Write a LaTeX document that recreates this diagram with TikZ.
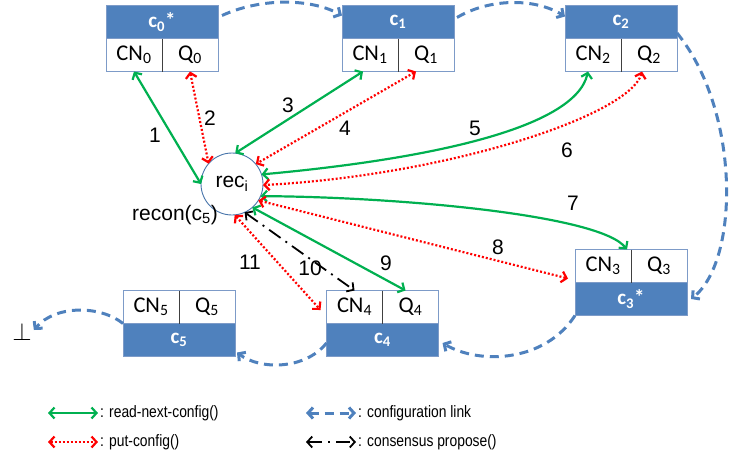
\documentclass[tikz,border=0pt]{standalone}
\usepackage{fontspec}
\setmainfont{Liberation Sans}
\newfontfamily\cellfont{Carlito}
\newfontfamily\legendfont[FakeStretch=0.84]{Liberation Sans}
\usetikzlibrary{positioning, arrows.meta}

\definecolor{hdrblue}{RGB}{79,129,189}
\definecolor{boxline}{RGB}{125,155,200}
\definecolor{rdgreen}{RGB}{0,176,80}
\definecolor{putred}{RGB}{255,0,0}
\definecolor{lnkblue}{RGB}{79,129,189}

\begin{document}
\begin{tikzpicture}[
        x=1pt, y=-1pt,
        >={Straight Barb[length=5pt,width=11pt]},
        hdr/.style={
            fill=hdrblue, draw=boxline, line width=0.8pt,
            minimum width=112pt, minimum height=33pt,
            inner sep=0pt, outer sep=0pt, text=white,
            font=\cellfont\bfseries\fontsize{21}{23}\selectfont
        },
        cell/.style={
            fill=white, draw=boxline, line width=0.8pt,
            minimum width=56pt, minimum height=33pt,
            inner sep=0pt, outer sep=0pt,
            font=\cellfont\fontsize{22.5}{24}\selectfont
        },
        divider/.style={draw=black!75, line width=0.9pt},
        recnode/.style={circle, draw=hdrblue!90!black, line width=0.9pt,
            fill=white, minimum size=62pt, inner sep=0pt, outer sep=0pt,
            font=\fontsize{21}{23}\selectfont},
        num/.style={font=\fontsize{21}{23}\selectfont, inner sep=1pt},
        readcfg/.style={<->, draw=rdgreen, line width=2.2pt},
        putcfg/.style={<->, draw=putred, line width=2.2pt,
            dash pattern=on 2pt off 2pt},
        cfglink/.style={->, draw=lnkblue, line width=3pt,
            dash pattern=on 9pt off 6pt},
        propose/.style={<->, draw=black, line width=1.8pt,
            dash pattern=on 14pt off 6pt on 2pt off 6pt},
        legend/.style={font=\legendfont\fontsize{16.5}{18}\selectfont,
            inner sep=0pt, anchor=west}
    ]
    \useasboundingbox (0,0) rectangle (730,461);

    % c0*
    \node[hdr] (c0) at (162,22) {c\textsubscript{0}*};
    \node[cell, below right=0pt of c0.south west] (cn0) {CN\textsubscript{0}};
    \node[cell, right=0pt of cn0] (q0) {Q\textsubscript{0}};
    \draw[divider] (cn0.north east) -- (cn0.south east);

    % c1
    \node[hdr] (c1) at (398,22) {c\textsubscript{1}};
    \node[cell, below right=0pt of c1.south west] (cn1) {CN\textsubscript{1}};
    \node[cell, right=0pt of cn1] (q1) {Q\textsubscript{1}};
    \draw[divider] (cn1.north east) -- (cn1.south east);

    % c2
    \node[hdr] (c2) at (621,22) {c\textsubscript{2}};
    \node[cell, below right=0pt of c2.south west] (cn2) {CN\textsubscript{2}};
    \node[cell, right=0pt of cn2] (q2) {Q\textsubscript{2}};
    \draw[divider] (cn2.north east) -- (cn2.south east);

    % c3*
    \node[hdr] (c3) at (631,299) {c\textsubscript{3}*};
    \node[cell, above right=0pt of c3.north west] (cn3) {CN\textsubscript{3}};
    \node[cell, right=0pt of cn3] (q3) {Q\textsubscript{3}};
    \draw[divider] (cn3.north east) -- (cn3.south east);

    % c4
    \node[hdr] (c4) at (382.5,340) {c\textsubscript{4}};
    \node[cell, above right=0pt of c4.north west] (cn4) {CN\textsubscript{4}};
    \node[cell, right=0pt of cn4] (q4) {Q\textsubscript{4}};
    \draw[divider] (cn4.north east) -- (cn4.south east);

    % c5
    \node[hdr] (c5) at (179,340) {c\textsubscript{5}};
    \node[cell, above right=0pt of c5.north west] (cn5) {CN\textsubscript{5}};
    \node[cell, right=0pt of cn5] (q5) {Q\textsubscript{5}};
    \draw[divider] (cn5.north east) -- (cn5.south east);

    % bottom
    \node[inner sep=0pt, font=\fontsize{26}{28}\selectfont] (bot) at (22,332) {$\bot$};

    % rec_i
    \node[recnode] (rec) at (232,184) {rec\textsubscript{i}};
    \node[num] (recon) at (175,215) {recon(c\textsubscript{5})};

    % configuration links
    \draw[cfglink] ([shift={(4pt,-10pt)}]c0.north east)
        .. controls (260,-2) and (310,-2) .. ([yshift=-10pt]c1.north west);
    \draw[cfglink] ([shift={(3pt,-12pt)}]c1.north east)
        .. controls (490,-2) and (535,-2) .. ([yshift=-11pt]c2.north west);
    \draw[cfglink] ([yshift=-11pt]c2.east)
        .. controls (740,110) and (740,260) .. ([xshift=4pt]c3.east);
    \draw[cfglink] (c3.south west)
        .. controls (545,362) and (480,365) .. ([shift={(4pt,-3pt)}]c4.east);
    \draw[cfglink] ([yshift=-3pt]c4.west)
        .. controls (305,370) and (260,370) .. ([shift={(2pt,4pt)}]c5.south east);
    \draw[cfglink] (cn5.south west)
        .. controls (100,305) and (55,305) .. ([shift={(2pt,2pt)}]bot.east);

    % read-next-config / put-config
    \draw[readcfg] (cn0.south) -- (rec.180);
    \draw[putcfg] (q0.south) -- (rec.139);
    \draw[readcfg] ([xshift=-7pt]cn1.south) -- (rec.84);
    \draw[putcfg] ([xshift=-10pt]q1.south) -- (rec.40);
    \draw[readcfg] ([xshift=-5pt]cn2.south)
        .. controls (575,130) and (420,160) .. (rec.18);
    \draw[putcfg] ([xshift=-7pt]q2.south)
        .. controls (630,115) and (450,175) .. (rec.-2);
    \draw[readcfg] (rec.-23)
        .. controls (400,197) and (600,215) .. ([xshift=-4pt]cn3.north east);
    \draw[putcfg] (rec.-32) -- ([shift={(-7pt,4pt)}]cn3.south west);
    \draw[readcfg] (rec.-49) -- ([xshift=-5pt]q4.north);
    \draw[propose] (rec.-66) -- (cn4.north);
    \draw[putcfg] (rec.-85) -- ([shift={(-6pt,-3pt)}]cn4.west);

    % numbers
    \node[num] (n1) at (155,135) {1};
    \node[num] (n2) at (210,118) {2};
    \node[num] (n3) at (288,105) {3};
    \node[num] (n4) at (345,128) {4};
    \node[num] (n5) at (475,128) {5};
    \node[num] (n6) at (567,150) {6};
    \node[num] (n7) at (573,203) {7};
    \node[num] (n8) at (498,247) {8};
    \node[num] (n9) at (386,263) {9};
    \node[num] (n10) at (310,268) {10};
    \node[num] (n11) at (250,262) {11};

    % legend
    \coordinate (lgA1) at (48,413);
    \coordinate (lgA2) at (98,413);
    \draw[readcfg] (lgA1) -- (lgA2);
    \node[legend, right=2pt of lgA2] (lgAtxt) {: read-next-config()};

    \coordinate (lgB1) at (48,442);
    \coordinate (lgB2) at (98,442);
    \draw[putcfg] (lgB1) -- (lgB2);
    \node[legend, right=2pt of lgB2] (lgBtxt) {: put-config()};

    \coordinate (lgC1) at (306,413);
    \coordinate (lgC2) at (356,413);
    \draw[cfglink, <->] (lgC1) -- (lgC2);
    \node[legend, right=2pt of lgC2] (lgCtxt) {: configuration link};

    \coordinate (lgD1) at (306,442);
    \coordinate (lgD2) at (356,442);
    \draw[propose] (lgD1) -- (lgD2);
    \node[legend, right=2pt of lgD2] (lgDtxt) {: consensus propose()};

    \end{tikzpicture}
\end{document}
